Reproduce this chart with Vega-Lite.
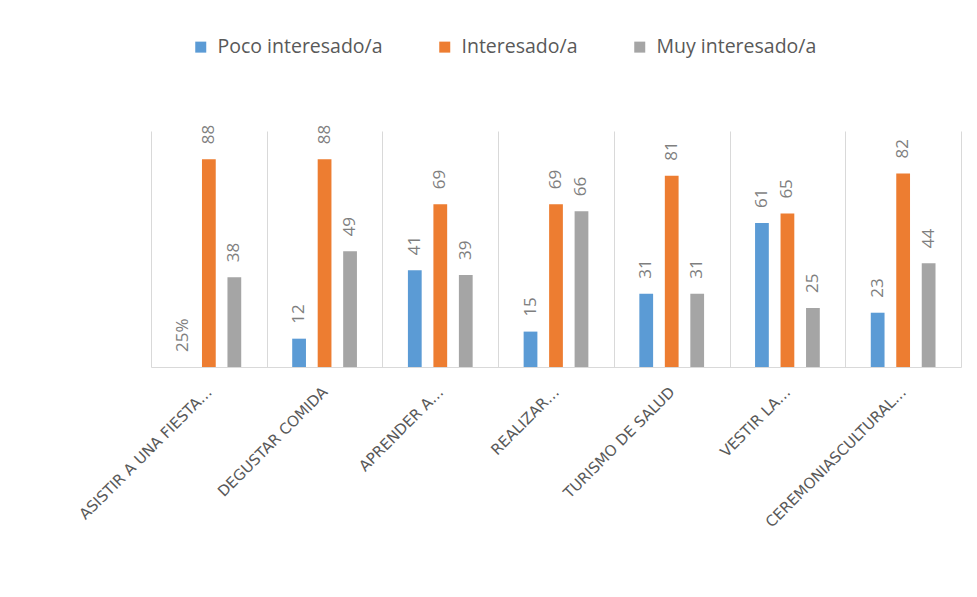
{
  "$schema": "https://vega.github.io/schema/vega-lite/v6.json",
  "width": 810,
  "height": 236,
  "autosize": {"type": "none"},
  "padding": {"left": 151, "top": 131, "right": 16, "bottom": 230},
  "background": "white",
  "config": {"view": {"stroke": null}, "font": "Open Sans"},
  "data": {
    "values": [
      {"cat": "ASISTIR A UNA FIESTA…", "serie": "Poco interesado/a", "val": 0, "lab": "25%"},
      {"cat": "ASISTIR A UNA FIESTA…", "serie": "Interesado/a", "val": 88, "lab": "88"},
      {"cat": "ASISTIR A UNA FIESTA…", "serie": "Muy interesado/a", "val": 38, "lab": "38"},
      {"cat": "DEGUSTAR COMIDA", "serie": "Poco interesado/a", "val": 12, "lab": "12"},
      {"cat": "DEGUSTAR COMIDA", "serie": "Interesado/a", "val": 88, "lab": "88"},
      {"cat": "DEGUSTAR COMIDA", "serie": "Muy interesado/a", "val": 49, "lab": "49"},
      {"cat": "APRENDER A…", "serie": "Poco interesado/a", "val": 41, "lab": "41"},
      {"cat": "APRENDER A…", "serie": "Interesado/a", "val": 69, "lab": "69"},
      {"cat": "APRENDER A…", "serie": "Muy interesado/a", "val": 39, "lab": "39"},
      {"cat": "REALIZAR…", "serie": "Poco interesado/a", "val": 15, "lab": "15"},
      {"cat": "REALIZAR…", "serie": "Interesado/a", "val": 69, "lab": "69"},
      {"cat": "REALIZAR…", "serie": "Muy interesado/a", "val": 66, "lab": "66"},
      {"cat": "TURISMO DE SALUD", "serie": "Poco interesado/a", "val": 31, "lab": "31"},
      {"cat": "TURISMO DE SALUD", "serie": "Interesado/a", "val": 81, "lab": "81"},
      {"cat": "TURISMO DE SALUD", "serie": "Muy interesado/a", "val": 31, "lab": "31"},
      {"cat": "VESTIR LA…", "serie": "Poco interesado/a", "val": 61, "lab": "61"},
      {"cat": "VESTIR LA…", "serie": "Interesado/a", "val": 65, "lab": "65"},
      {"cat": "VESTIR LA…", "serie": "Muy interesado/a", "val": 25, "lab": "25"},
      {"cat": "CEREMONIASCULTURAL…", "serie": "Poco interesado/a", "val": 23, "lab": "23"},
      {"cat": "CEREMONIASCULTURAL…", "serie": "Interesado/a", "val": 82, "lab": "82"},
      {"cat": "CEREMONIASCULTURAL…", "serie": "Muy interesado/a", "val": 44, "lab": "44"}
    ]
  },
  "encoding": {
    "x": {
      "field": "cat",
      "type": "nominal",
      "sort": null,
      "scale": {"paddingInner": 0, "paddingOuter": 0},
      "axis": {
        "title": null,
        "labelAngle": -45,
        "labelAlign": "right",
        "labelBaseline": "middle",
        "labelFont": "DejaVu Sans",
        "labelFontSize": 15,
        "labelColor": "#595959",
        "labelPadding": 22,
        "labelLimit": 0,
        "ticks": false,
        "grid": true,
        "tickBand": "extent",
        "gridColor": "#d9d9d9",
        "gridWidth": 1,
        "domainColor": "#d9d9d9",
        "domainWidth": 1
      }
    },
    "xOffset": {
      "field": "serie",
      "type": "nominal",
      "sort": ["Poco interesado/a", "Interesado/a", "Muy interesado/a"],
      "scale": {"paddingInner": 0.46, "paddingOuter": 1.14}
    },
    "y": {
      "field": "val",
      "type": "quantitative",
      "scale": {"domain": [0, 100], "nice": false},
      "axis": null
    }
  },
  "layer": [
    {
      "mark": {"type": "bar"},
      "encoding": {
        "color": {
          "field": "serie",
          "type": "nominal",
          "scale": {
            "domain": ["Poco interesado/a", "Interesado/a", "Muy interesado/a"],
            "range": ["#5B9BD5", "#ED7D31", "#A5A5A5"]
          },
          "legend": {
            "title": null,
            "orient": "none",
            "direction": "horizontal",
            "legendX": 40,
            "legendY": -94,
            "padding": 0,
            "symbolType": "square",
            "symbolSize": 121,
            "symbolStrokeWidth": 0,
            "labelFont": "Open Sans",
            "labelFontSize": 19.5,
            "labelColor": "#595959",
            "labelOffset": 7,
            "columnPadding": 52,
            "labelLimit": 0
          }
        }
      }
    },
    {
      "mark": {
        "type": "text",
        "angle": -90,
        "align": "left",
        "baseline": "middle",
        "dx": 15,
        "font": "Open Sans",
        "fontSize": 17,
        "color": "#7f7f7f"
      },
      "encoding": {"text": {"field": "lab"}}
    }
  ]
}
